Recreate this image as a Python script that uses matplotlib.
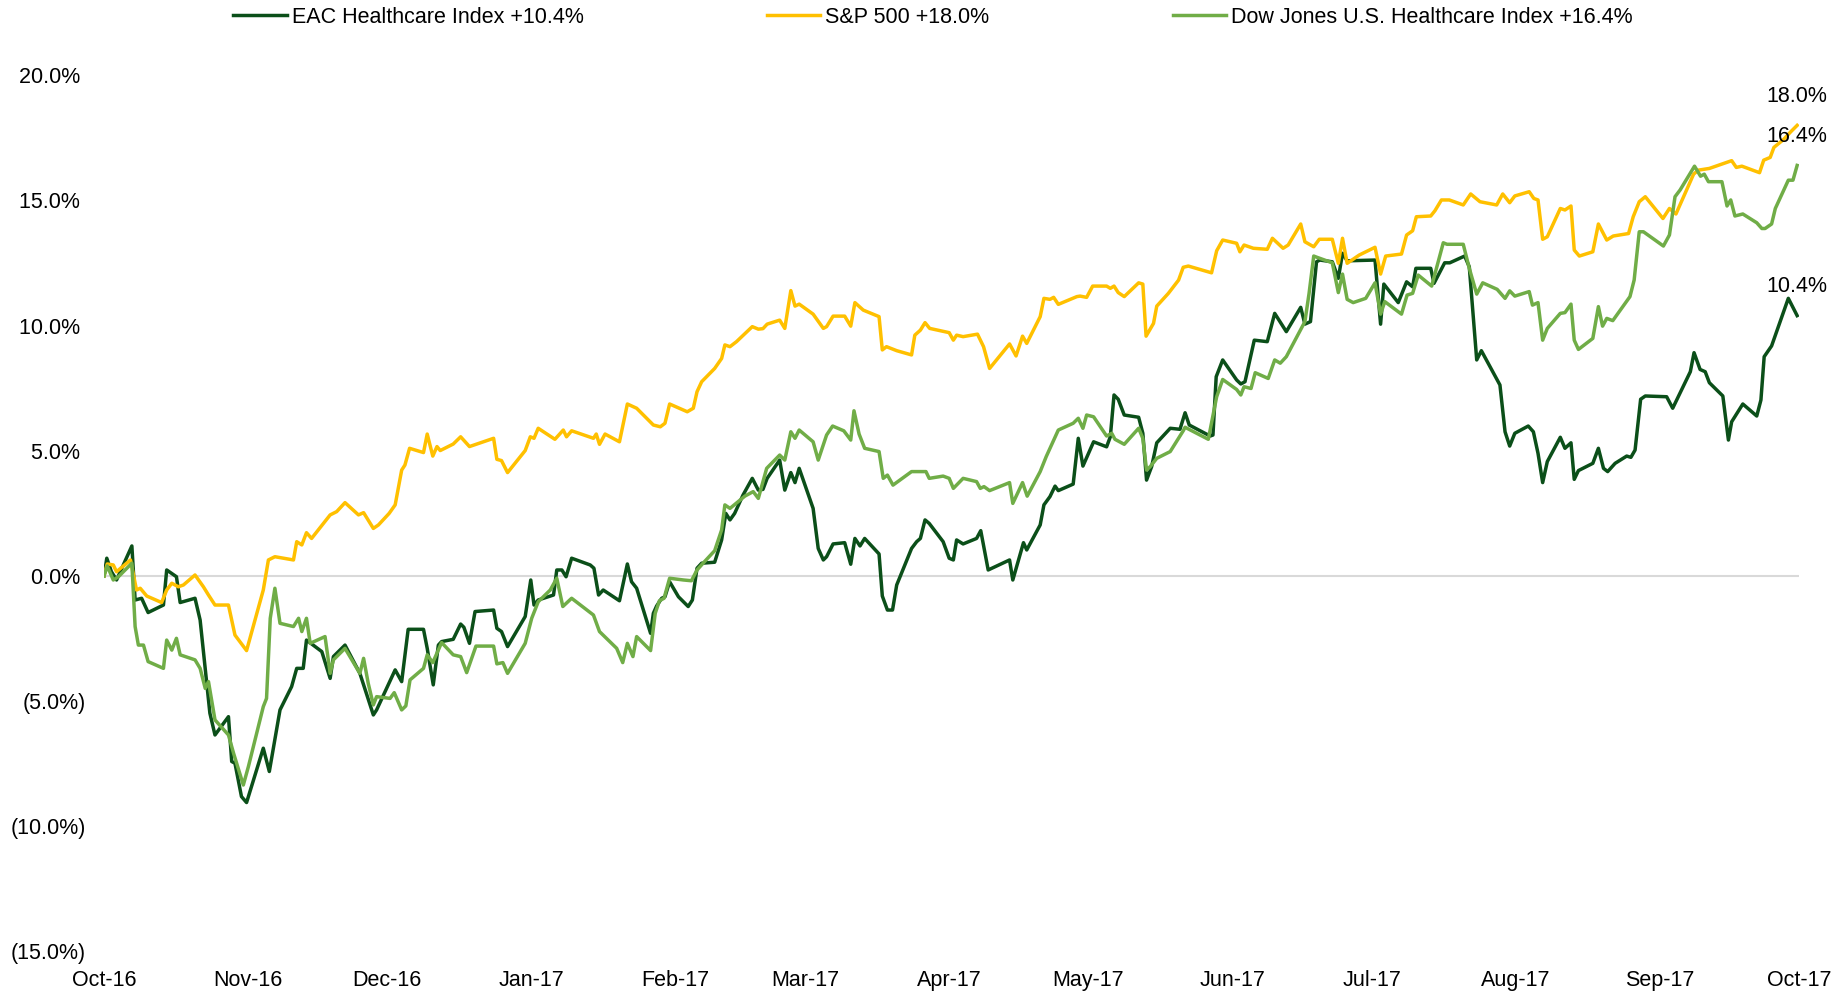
import numpy as np
import pandas as pd
import matplotlib
matplotlib.use("Agg")
import matplotlib.pyplot as plt
import matplotlib.dates as mdates
from matplotlib.ticker import FuncFormatter, MultipleLocator

plt.rcParams['font.family'] = ['Liberation Sans', 'DejaVu Sans']

inicio = pd.Timestamp('2016-10-01')

# dias desde inicio / rendimiento acumulado en %
eac_dias = [0, 0.6, 1.6, 2.7, 6.0, 6.7, 8.1, 9.5, 12.8, 13.5, 15.6, 16.4, 19.6, 20.7, 22.8, 23.9, 26.8, 27.5, 28.2, 29.6,
            30.7, 34.3, 35.6, 37.9, 40.4, 41.5, 42.9, 43.6, 46.9, 48.7, 49.4, 51.9, 55.1, 58.0, 58.7, 62.7, 64.1, 65.5,
            68.8, 69.6, 70.9, 72.0, 72.7, 75.2, 76.8, 77.5, 78.7, 79.9, 83.9, 84.6, 85.6, 86.9, 90.7, 91.9, 92.6, 93.5,
            96.8, 97.5, 98.6, 99.5, 100.7, 104.7, 105.5, 106.5, 107.5, 111.0, 112.7, 113.6, 114.7, 117.7, 118.3, 119.0,
            120.1, 120.8, 121.8, 123.7, 125.8, 126.7, 127.7, 128.7, 131.5, 133.0, 133.9, 134.8, 135.8, 137.6, 139.6,
            140.9, 141.9, 142.8, 145.5, 146.6, 147.9, 148.8, 149.7, 152.7, 153.8, 154.9, 155.6, 157.0, 159.5, 160.8,
            161.7, 162.8, 163.8, 166.9, 167.6, 168.7, 169.8, 170.7, 173.9, 175.0, 175.8, 176.8, 177.7, 180.7, 182.0,
            182.9, 183.6, 185.0, 187.9, 188.8, 190.4, 195.0, 195.7, 198.0, 198.7, 201.6, 202.4, 203.7, 204.8, 205.5,
            208.7, 209.8, 210.8, 213.1, 215.9, 216.7, 217.5, 218.4, 219.7, 222.8, 223.7, 224.5, 225.6, 226.7, 229.6,
            231.7, 232.8, 233.7, 238.2, 238.8, 239.5, 240.9, 243.9, 244.8, 245.7, 247.7, 250.5, 252.1, 254.6, 257.7,
            258.6, 259.8, 261.1, 261.8, 264.5, 265.8, 266.7, 267.7, 273.7, 274.9, 275.6, 278.7, 280.5, 281.8, 282.5,
            285.7, 286.4, 288.7, 289.8, 293.0, 294.0, 295.6, 296.6, 300.6, 301.7, 302.7, 303.8, 306.7, 307.8, 308.8,
            309.8, 310.8, 313.6, 314.6, 315.9, 316.6, 317.5, 320.6, 321.8, 322.9, 323.8, 325.4, 327.9, 328.8, 329.7,
            330.9, 331.9, 336.5, 337.8, 341.6, 342.4, 343.7, 344.8, 345.7, 348.6, 349.8, 350.5, 352.9, 355.9, 356.8,
            357.5, 359.1, 362.7, 364.6]
eac_vals = [0.0, 0.71, 0.17, -0.16, 1.20, -0.96, -0.89, -1.46, -1.16, 0.24, -0.03, -1.06, -0.89, -1.76, -5.48, -6.35,
            -5.62, -7.41, -7.48, -8.81, -9.05, -6.88, -7.81, -5.35, -4.42, -3.69, -3.69, -2.56, -3.02, -4.09, -3.22,
            -2.76, -3.89, -5.55, -5.35, -3.75, -4.22, -2.13, -2.13, -2.89, -4.35, -2.76, -2.62, -2.53, -1.92, -2.05,
            -2.69, -1.42, -1.36, -2.09, -2.22, -2.82, -1.62, -0.16, -1.16, -0.96, -0.76, 0.24, 0.24, -0.03, 0.71, 0.44,
            0.31, -0.76, -0.56, -0.99, 0.48, -0.23, -0.49, -2.29, -1.49, -1.20, -0.89, -0.83, -0.23, -0.83, -1.22,
            -0.96, 0.31, 0.51, 0.55, 1.44, 2.50, 2.24, 2.50, 3.23, 3.90, 3.43, 3.46, 3.90, 4.63, 3.43, 4.13, 3.73, 4.30,
            2.70, 1.10, 0.64, 0.77, 1.28, 1.33, 0.47, 1.50, 1.20, 1.50, 0.88, -0.80, -1.36, -1.36, -0.36, 1.10, 1.37,
            1.50, 2.24, 2.10, 1.37, 0.71, 0.64, 1.44, 1.28, 1.50, 1.81, 0.24, 0.64, -0.16, 1.33, 1.04, 2.04, 2.84, 3.17,
            3.59, 3.41, 3.67, 5.50, 4.39, 5.36, 5.16, 5.56, 7.23, 7.06, 6.43, 6.34, 5.70, 3.83, 4.37, 5.32, 5.90, 5.86,
            6.52, 6.03, 5.59, 5.63, 7.96, 8.63, 7.83, 7.67, 7.76, 9.42, 9.36, 10.49, 9.76, 10.73, 10.06, 10.16, 12.55,
            12.62, 12.55, 11.89, 12.89, 12.59, 12.62, 10.06, 11.66, 10.92, 11.75, 11.55, 12.29, 12.29, 11.69, 12.51,
            12.51, 12.78, 12.35, 8.63, 9.00, 7.63, 5.76, 5.19, 5.70, 5.99, 5.76, 4.90, 3.73, 4.57, 5.54, 5.10, 5.32,
            3.86, 4.21, 4.50, 5.10, 4.30, 4.17, 4.50, 4.79, 4.74, 5.03, 7.06, 7.19, 7.16, 6.70, 8.16, 8.92, 8.25, 8.16,
            7.72, 7.19, 5.43, 6.16, 6.87, 6.39, 7.03, 8.76, 9.19, 11.09, 10.4]

sp_dias = [0, 0.7, 2.0, 2.7, 5.7, 7.0, 7.8, 9.2, 12.4, 13.5, 14.6, 16.0, 17.1, 19.6, 21.4, 22.5, 23.9, 26.8, 28.2, 30.7,
           34.3, 35.4, 36.8, 40.8, 41.5, 42.6, 43.6, 44.7, 48.7, 50.1, 51.9, 54.8, 55.9, 58.0, 59.1, 61.4, 62.7, 64.1,
           64.8, 65.8, 68.8, 69.6, 70.8, 71.7, 72.4, 75.2, 76.8, 78.7, 83.9, 84.6, 85.6, 86.9, 90.7, 91.8, 92.6, 93.5,
           97.1, 98.9, 99.6, 100.7, 105.4, 106.0, 106.7, 107.9, 111.0, 112.7, 114.7, 118.3, 119.8, 120.8, 121.8, 124.5,
           125.6, 126.9, 127.7, 128.7, 131.5, 133.0, 133.7, 134.8, 136.2, 139.6, 140.9, 141.9, 142.8, 145.5, 146.6,
           147.9, 148.8, 149.7, 152.7, 154.9, 155.6, 157.0, 159.5, 160.8, 161.7, 163.5, 166.9, 167.6, 168.5, 170.7,
           173.9, 174.6, 175.8, 176.8, 177.8, 182.0, 182.9, 183.6, 185.0, 188.1, 189.4, 190.7, 195.0, 196.4, 197.8,
           198.7, 201.6, 202.4, 203.7, 204.5, 205.5, 209.5, 210.2, 211.6, 212.9, 215.9, 216.7, 217.5, 218.4, 219.7,
           222.8, 223.7, 224.4, 226.0, 226.7, 229.2, 231.4, 232.4, 233.5, 238.5, 239.6, 240.9, 243.9, 244.6, 245.5,
           247.5, 250.5, 251.6, 253.9, 255.0, 257.7, 258.6, 260.5, 261.7, 264.5, 265.8, 266.7, 267.7, 270.3, 273.7,
           274.9, 276.0, 279.4, 280.5, 281.8, 282.6, 285.7, 286.6, 288.0, 289.7, 292.7, 294.3, 296.3, 299.9, 301.2,
           302.7, 303.8, 306.9, 307.9, 308.8, 309.8, 310.8, 313.6, 314.6, 315.9, 316.6, 317.7, 320.6, 321.8, 323.6,
           325.0, 328.3, 329.3, 330.6, 331.9, 335.7, 337.1, 338.5, 342.3, 343.3, 345.7, 350.5, 351.5, 352.7, 356.5,
           357.4, 358.8, 359.6, 361.7, 363.2, 364.6]
sp_vals = [0.0, 0.48, 0.44, 0.17, 0.64, -0.56, -0.49, -0.80, -1.06, -0.56, -0.29, -0.43, -0.36, 0.04, -0.43, -0.76,
           -1.16, -1.16, -2.36, -2.98, -0.56, 0.64, 0.77, 0.64, 1.37, 1.24, 1.73, 1.50, 2.44, 2.57, 2.93, 2.44, 2.53,
           1.90, 2.04, 2.50, 2.84, 4.23, 4.43, 5.10, 4.93, 5.67, 4.79, 5.17, 5.01, 5.27, 5.56, 5.17, 5.50, 4.66, 4.61,
           4.13, 5.01, 5.56, 5.50, 5.90, 5.46, 5.83, 5.56, 5.80, 5.50, 5.67, 5.26, 5.67, 5.36, 6.87, 6.70, 6.03, 5.96,
           6.10, 6.87, 6.65, 6.56, 6.70, 7.36, 7.76, 8.29, 8.69, 9.23, 9.16, 9.36, 9.96, 9.86, 9.88, 10.06, 10.22, 9.89,
           11.40, 10.78, 10.86, 10.46, 9.89, 9.96, 10.38, 10.38, 9.98, 10.92, 10.62, 10.36, 9.03, 9.16, 9.00, 8.83,
           9.62, 9.82, 10.12, 9.89, 9.72, 9.42, 9.62, 9.56, 9.66, 9.16, 8.29, 9.27, 8.79, 9.58, 9.29, 10.36, 11.09,
           11.05, 11.13, 10.85, 11.16, 11.18, 11.13, 11.58, 11.58, 11.49, 11.58, 11.32, 11.16, 11.71, 11.66, 9.58,
           10.09, 10.78, 11.29, 11.82, 12.33, 12.38, 12.11, 12.99, 13.42, 13.29, 12.95, 13.22, 13.09, 13.05, 13.49,
           13.09, 13.22, 14.06, 13.35, 13.15, 13.45, 13.45, 12.49, 13.49, 12.49, 12.82, 13.13, 12.06, 12.78, 12.86,
           13.62, 13.79, 14.35, 14.38, 14.59, 15.02, 15.02, 14.82, 15.26, 14.95, 14.82, 15.26, 14.91, 15.18, 15.35,
           15.08, 15.02, 13.45, 13.55, 14.68, 14.62, 14.78, 13.02, 12.78, 12.95, 14.06, 13.42, 13.58, 13.68, 14.35,
           14.95, 15.15, 14.28, 14.68, 14.46, 16.05, 16.21, 16.28, 16.59, 16.32, 16.37, 16.11, 16.61, 16.72, 17.12,
           17.44, 17.74, 18.0]

dj_dias = [0, 0.7, 2.0, 3.1, 6.0, 6.7, 7.4, 8.5, 9.5, 12.8, 13.5, 14.6, 15.6, 16.4, 19.6, 20.7, 21.8, 22.5, 23.9, 26.8,
           27.9, 30.0, 31.1, 34.3, 35.0, 35.8, 36.8, 37.9, 40.8, 41.9, 42.6, 43.6, 44.4, 47.6, 48.7, 49.4, 51.9, 55.1,
           55.9, 56.9, 58.0, 58.7, 61.6, 62.5, 64.1, 65.0, 65.9, 68.8, 69.6, 70.8, 72.7, 75.2, 76.8, 78.1, 80.1, 83.9,
           84.6, 85.9, 86.9, 90.7, 92.1, 93.5, 96.1, 97.5, 98.8, 100.7, 105.4, 106.7, 110.4, 111.7, 112.7, 113.9, 114.7,
           117.7, 118.7, 119.6, 120.6, 121.8, 124.8, 126.5, 127.7, 129.0, 131.5, 133.0, 133.7, 134.8, 138.0, 139.8,
           140.9, 142.7, 145.5, 146.6, 147.9, 148.8, 149.7, 152.7, 153.8, 155.6, 156.9, 159.3, 160.8, 161.5, 162.6,
           163.8, 166.9, 167.8, 168.7, 169.9, 173.9, 177.0, 177.7, 180.7, 182.0, 182.9, 185.0, 187.9, 188.7, 189.5,
           190.7, 195.0, 195.7, 197.8, 198.8, 201.6, 202.9, 205.5, 208.7, 209.8, 210.8, 211.6, 213.1, 215.9, 217.0,
           217.7, 219.7, 222.8, 223.7, 224.5, 225.3, 226.7, 229.6, 232.4, 232.8, 237.8, 239.6, 240.9, 243.9, 244.8,
           245.5, 247.0, 247.9, 250.7, 252.1, 253.3, 254.6, 258.6, 259.5, 260.5, 261.2, 264.5, 265.8, 266.7, 267.7,
           269.0, 271.7, 273.7, 274.9, 275.8, 279.4, 280.6, 281.8, 283.0, 285.9, 288.4, 289.2, 292.7, 294.0, 295.6,
           296.9, 300.0, 301.7, 302.7, 303.8, 306.9, 307.6, 308.8, 309.8, 310.8, 313.6, 314.6, 315.9, 316.6, 317.5,
           320.6, 321.8, 322.7, 323.6, 324.9, 328.6, 329.5, 330.6, 331.5, 335.8, 337.1, 338.3, 339.4, 342.5, 343.8,
           344.6, 345.5, 348.4, 349.5, 350.3, 351.2, 352.9, 355.9, 357.0, 357.7, 359.1, 359.9, 362.7, 363.7, 364.6]
dj_vals = [0.0, 0.40, -0.16, -0.03, 0.51, -2.02, -2.76, -2.76, -3.42, -3.69, -2.56, -2.96, -2.49, -3.15, -3.35, -3.69,
           -4.49, -4.22, -5.75, -6.35, -7.08, -8.35, -7.61, -5.22, -4.89, -1.69, -0.49, -1.89, -2.02, -1.69, -2.22,
           -1.69, -2.69, -2.42, -3.89, -3.35, -2.89, -3.89, -3.29, -4.29, -5.15, -4.82, -4.89, -4.66, -5.35, -5.19,
           -4.15, -3.69, -3.15, -3.46, -2.66, -3.15, -3.22, -3.86, -2.80, -2.80, -3.51, -3.46, -3.89, -2.69, -1.69,
           -1.03, -0.56, -0.09, -1.22, -0.89, -1.56, -2.22, -2.89, -3.46, -2.69, -3.22, -2.42, -2.98, -1.49, -0.99,
           -0.89, -0.09, -0.16, -0.19, 0.24, 0.51, 1.01, 1.84, 2.84, 2.70, 3.19, 3.37, 3.10, 4.30, 4.83, 4.63, 5.76,
           5.50, 5.83, 5.36, 4.63, 5.63, 5.99, 5.80, 5.43, 6.60, 5.67, 5.10, 4.97, 3.90, 4.03, 3.63, 4.17, 4.17, 3.90,
           3.99, 3.90, 3.50, 3.90, 3.77, 3.50, 3.57, 3.41, 3.73, 2.90, 3.73, 3.19, 4.17, 4.77, 5.83, 6.10, 6.30, 5.90,
           6.43, 6.36, 5.59, 5.70, 5.46, 5.26, 5.90, 5.50, 4.23, 4.37, 4.70, 4.97, 5.80, 5.94, 5.46, 7.16, 7.85, 7.45,
           7.23, 7.56, 7.49, 8.12, 7.89, 8.63, 8.50, 8.76, 10.16, 11.29, 12.78, 12.73, 12.51, 11.32, 12.06, 11.05,
           10.92, 11.09, 11.71, 10.46, 10.96, 10.46, 11.22, 11.29, 12.02, 11.58, 13.31, 13.25, 13.25, 12.29, 11.26,
           11.71, 11.45, 11.09, 11.39, 11.18, 11.36, 10.82, 10.92, 9.42, 9.89, 10.49, 10.52, 10.86, 9.42, 9.05, 9.49,
           10.76, 9.98, 10.29, 10.20, 11.16, 11.82, 13.75, 13.75, 13.18, 13.62, 15.15, 15.42, 16.37, 15.97, 16.05,
           15.75, 15.75, 14.78, 15.02, 14.38, 14.46, 14.11, 13.88, 13.88, 14.06, 14.68, 15.81, 15.81, 16.4]

nombres = ['EAC Healthcare Index', 'S&P 500', 'Dow Jones U.S. Healthcare Index']
finales = [10.4, 18.0, 16.4]
colores = ['#0B4F19', '#FFC000', '#70AD47']

fs = 15.5
fig = plt.figure(figsize=(18.47, 9.92), dpi=100)
ax = fig.add_axes([104 / 1847, 1 - 951.5 / 992, 1695 / 1847, 876.2 / 992])

series = [(eac_dias, eac_vals), (sp_dias, sp_vals), (dj_dias, dj_vals)]
for (d, v), nom, fin, col in zip(series, nombres, finales, colores):
    x = inicio + pd.to_timedelta(np.array(d), unit='D')
    ax.plot(x, v, color=col, lw=2.5, solid_joinstyle='round', zorder=3,
            label=f'{nom} +{fin:.1f}%')
    ax.annotate(f'{fin:.1f}%', (x[-1], v[-1]), xytext=(0, 21), textcoords='offset points',
                ha='center', va='center', fontsize=fs, annotation_clip=False, zorder=5)

ax.axhline(0, color='#D9D9D9', lw=1.5, zorder=1)

ax.set_ylim(-15, 20)
ax.set_xlim(inicio, pd.Timestamp('2017-10-01'))
ax.yaxis.set_major_locator(MultipleLocator(5))
ax.yaxis.set_major_formatter(FuncFormatter(
    lambda y, p: f'({abs(y):.1f}%)' if y < -1e-9 else f'{abs(y):.1f}% '))
ax.xaxis.set_major_locator(mdates.MonthLocator())
ax.xaxis.set_major_formatter(mdates.DateFormatter('%b-%y'))
ax.tick_params(axis='y', length=0, pad=13, labelsize=fs)
ax.tick_params(axis='x', length=0, pad=13.5, labelsize=fs)
for s in ax.spines.values():
    s.set_visible(False)

fig.legend(loc='center', bbox_to_anchor=(933 / 1847, 1 - 17.5 / 992), ncol=3, frameon=False,
           fontsize=fs, handlelength=2.5, handletextpad=0.23, columnspacing=8.5)

fig.savefig('out.png', dpi=100)
